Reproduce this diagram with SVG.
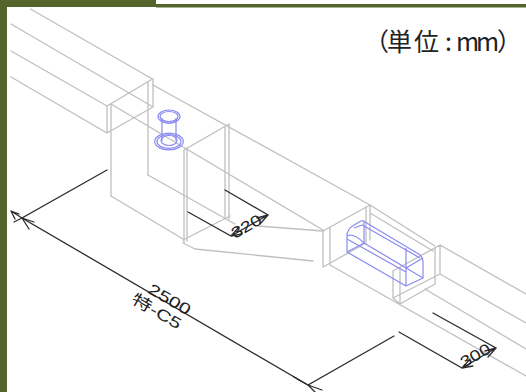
<svg xmlns="http://www.w3.org/2000/svg" width="526" height="392" viewBox="0 0 526 392">
<style>
.g{fill:none;stroke:#bfbfbf;stroke-width:1.3;stroke-linecap:round;stroke-linejoin:round}
.b{fill:none;stroke:#8a8af2;stroke-width:1.2;stroke-linejoin:round}
.k{fill:none;stroke:#2c2c2c;stroke-width:1.3;stroke-linecap:round}
.t{font-family:"Liberation Sans",Arial,sans-serif;font-size:15.500px;fill:#222;text-anchor:middle}
</style>
<rect width="526" height="392" fill="#fff"/>
<g id="frame" fill="#55662c"><rect x="0" y="0" width="7" height="392"/><rect x="0" y="0" width="156" height="7"/><rect x="156" y="4" width="370" height="3.500"/></g>
<g id="duct">
<path class="g" d="M30.500 9L152.500 79M11 24L153 107M11 51L107 106M11 77L107 133M107 106L152.500 79M107 133L153 107M107 106V133M153 79V107M148 82V175M111 104V196"/>
<path class="g" d="M153 85L370 205M111 104L323 230M148 175L235 224M111 196L183 239"/>
<path class="g" d="M184 150L229 124M184 150V243M187 148V241M225 127V218M229 124V219M183 243L195 249L313 261M183 240L230 216M258 226L323 231"/>
<path class="g" d="M323 231L370 205M323 231V267M330 228V265M366 207V243M370 205V240M323 267L366 243M330 265L526 376M370 213L433 251M370 205L435 246"/>
<path class="g" d="M393 271L440 245M393 271V298M400 268V304M435 248V284M440 245V274M393 298L400 304L435 284M393 298L440 274M440 245L526 294M440 274L526 323M425 289L526 349"/>
</g>
<g id="pipe">
<ellipse class="b" cx="169" cy="116.500" rx="11" ry="6.500"/><ellipse class="b" cx="169" cy="116.500" rx="9" ry="5"/>
<path class="b" d="M162 118V141M176 118V141M160 120Q169 127 178 120"/>
<ellipse class="b" cx="169" cy="141.500" rx="14.300" ry="8.300"/><ellipse class="b" cx="169" cy="141.500" rx="12" ry="6.800"/><ellipse class="b" cx="169" cy="140.500" rx="8" ry="5"/>
</g>
<g id="slot">
<path class="b" d="M347 252V236Q347 229 354 225L361 221Q363 220 365 222L417 253Q423 256 423 262V278L406 286L347 252Z"/>
<path class="b" d="M347 236L350 235Q356 235 364 243L406 268M347 239L406 272M347 252L364 243V221M354 228L362 225L364 226L420 258M406 248V286M406 268L423 258M364 243L423 278"/>
</g>
<g id="dimensions">
<path class="k" d="M107 170L22 218L308 385L394 336"/>
<path class="k" d="M11 211L22 218M11 211L19 214M11 211L15 219M22 218L34 222M22 218L29 229M22 218L14 222M308 385L297 379M308 385L315 392M308 385L322 390M308 385L294 377"/>
<path class="k" d="M225 190L268 215L231 236L188 212M231 236L242 234M231 236L239 227M268 215L257 218M268 215L260 224"/>
<path class="k" d="M433 313L496 348L462 368L399 332M462 368L473 366M462 368L470 359M496 348L485 351M496 348L488 357"/>
<text class="t" transform="translate(249 231) rotate(-30) scale(1.25 1)">320</text>
<text class="t" transform="translate(478 360) rotate(-30) scale(1.25 1)">300</text>
<text class="t" transform="translate(167 304) rotate(30) scale(1.35 1)">2500</text>
<text class="t" transform="translate(154 316) rotate(30) scale(1.35 1)" style="font-family:'Liberation Sans','Noto Sans CJK JP',sans-serif">特-C5</text>
</g>
<text id="unit" x="364 387 414 445 456 476 497" y="51" font-family="'Noto Sans CJK JP',sans-serif" font-size="25" fill="#222">（単位:mm）</text>
</svg>
